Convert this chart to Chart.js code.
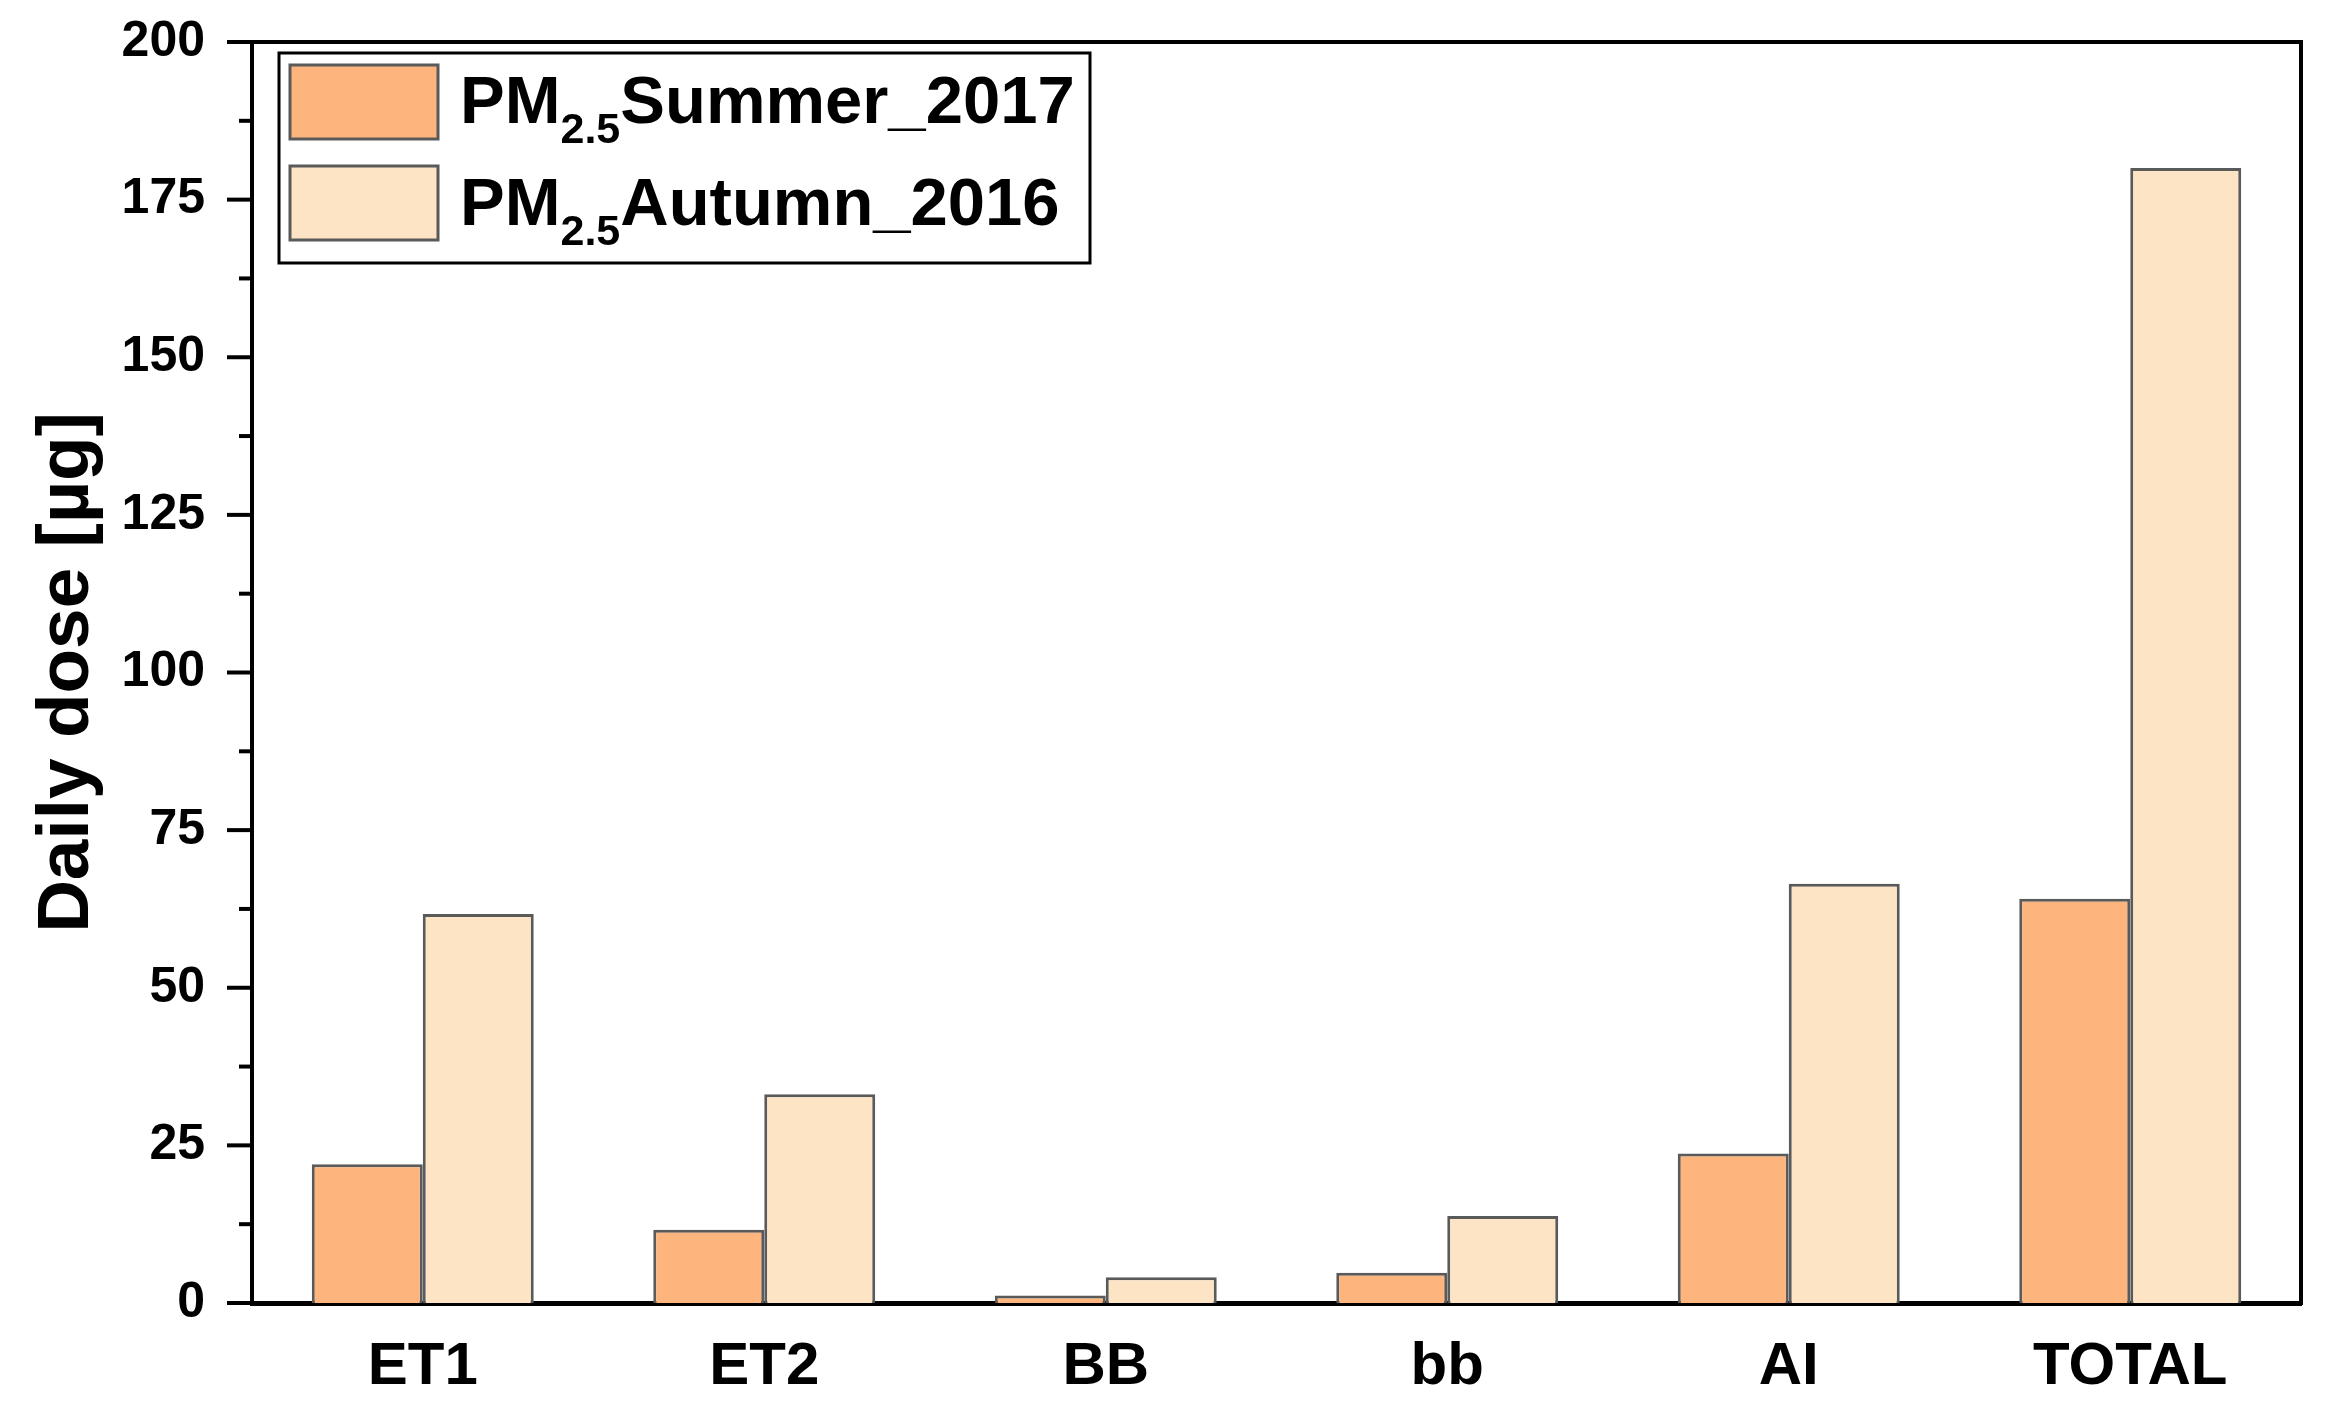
<!DOCTYPE html>
<html>
<head>
<meta charset="utf-8">
<script src="https://cdn.jsdelivr.net/npm/chart.js@4/dist/chart.umd.min.js"></script>
<style>
  html, body { margin: 0; padding: 0; background: #fff; }
</style>
</head>
<body>
<canvas id="myChart" width="2337" height="1404"></canvas>
<script>
const categories = ["ET1", "ET2", "BB", "bb", "AI", "TOTAL"];
const summer2017 = [22.0, 11.6, 1.2, 4.8, 23.7, 64.1];
const autumn2016 = [61.7, 33.1, 4.1, 13.8, 66.5, 180.0];
const seriesNames = [
  { main: "PM", sub: "2.5", rest: "Summer_2017" },
  { main: "PM", sub: "2.5", rest: "Autumn_2016" }
];
const yTicks = [0, 25, 50, 75, 100, 125, 150, 175, 200];

const FONT = "'Liberation Sans', Arial, sans-serif";
const summerColor = "rgb(253,181,125)";
const autumnColor = "rgb(252,228,196)";
const edgeColor = "#5a5a5a";

// frame on top/right, minor + major ticks on y, and the legend box
const extras = {
  id: "extras",
  afterDraw(chart) {
    const ctx = chart.ctx;
    const a = chart.chartArea;
    const y = chart.scales.y;
    ctx.save();
    ctx.strokeStyle = "#000";
    ctx.lineWidth = 4;
    ctx.beginPath();
    ctx.moveTo(a.left - 2, a.top);
    ctx.lineTo(a.right, a.top);
    ctx.lineTo(a.right, a.bottom + 2);
    ctx.stroke();

    ctx.lineWidth = 4;
    for (let v = 0; v <= 200; v += 12.5) {
      const py = y.getPixelForValue(v);
      const len = (v % 25 === 0) ? 25 : 13;
      ctx.beginPath();
      ctx.moveTo(a.left - len, py);
      ctx.lineTo(a.left, py);
      ctx.stroke();
    }

    // legend
    const lx = 279, ly = 53, lw = 811, lh = 210;
    ctx.lineWidth = 3;
    ctx.fillStyle = "#fff";
    ctx.fillRect(lx, ly, lw, lh);
    ctx.strokeStyle = "#000";
    ctx.strokeRect(lx, ly, lw, lh);
    const fills = [summerColor, autumnColor];
    const rowTop = [65, 166];
    const base = [123, 225];
    for (let i = 0; i < 2; i++) {
      ctx.fillStyle = fills[i];
      ctx.fillRect(290, rowTop[i], 148, 74);
      ctx.strokeStyle = edgeColor;
      ctx.lineWidth = 3;
      ctx.strokeRect(290, rowTop[i], 148, 74);
      ctx.fillStyle = "#000";
      ctx.textBaseline = "alphabetic";
      ctx.textAlign = "left";
      let tx = 460;
      ctx.font = "bold 67px " + FONT;
      ctx.fillText(seriesNames[i].main, tx, base[i]);
      tx += ctx.measureText(seriesNames[i].main).width;
      ctx.font = "bold 43px " + FONT;
      ctx.fillText(seriesNames[i].sub, tx, base[i] + 20);
      tx += ctx.measureText(seriesNames[i].sub).width;
      ctx.font = "bold 67px " + FONT;
      ctx.fillText(seriesNames[i].rest, tx, base[i]);
    }
    ctx.restore();
  }
};

new Chart(document.getElementById("myChart"), {
  type: "bar",
  data: {
    labels: categories,
    datasets: [
      {
        label: "PM2.5Summer_2017",
        data: summer2017,
        backgroundColor: summerColor,
        borderColor: edgeColor,
        borderWidth: 3,
        categoryPercentage: 0.65,
        barPercentage: 1.0
      },
      {
        label: "PM2.5Autumn_2016",
        data: autumn2016,
        backgroundColor: autumnColor,
        borderColor: edgeColor,
        borderWidth: 3,
        categoryPercentage: 0.65,
        barPercentage: 1.0
      }
    ]
  },
  options: {
    responsive: false,
    animation: false,
    devicePixelRatio: 1,
    layout: { padding: { left: 0, right: 36, top: 42, bottom: 0 } },
    plugins: {
      legend: { display: false },
      tooltip: { enabled: false }
    },
    scales: {
      x: {
        grid: { display: false, drawTicks: false },
        border: { color: "#000", width: 5 },
        ticks: {
          color: "#000",
          font: { family: FONT, size: 60, weight: "bold" },
          padding: 28
        },
        afterFit(scale) { scale.height = 101; }
      },
      y: {
        min: 0,
        max: 200,
        afterBuildTicks(scale) { scale.ticks = yTicks.map(v => ({ value: v })); },
        grid: { display: false, drawTicks: false },
        border: { color: "#000", width: 4 },
        ticks: {
          color: "#000",
          font: { family: FONT, size: 50, weight: "bold" },
          padding: 47
        },
        title: {
          display: true,
          text: "Daily dose [µg]",
          color: "#000",
          font: { family: FONT, size: 73, weight: "bold" },
          padding: { top: 24, bottom: 0 }
        },
        afterFit(scale) {
          scale.width = 252;
          scale.paddingTop = 0;
          scale.paddingBottom = 0;
        }
      }
    }
  },
  plugins: [extras]
});
</script>
</body>
</html>
